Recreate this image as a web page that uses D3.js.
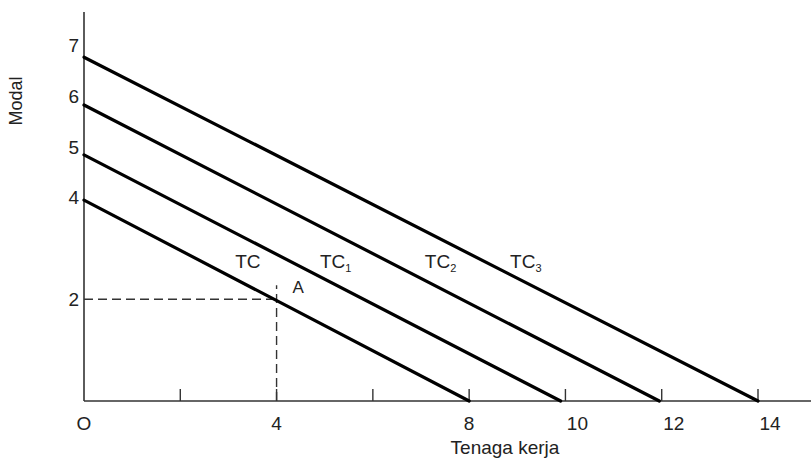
<!DOCTYPE html>
<html>
<head>
<meta charset="utf-8">
<script src="https://cdn.jsdelivr.net/npm/d3@7"></script>
<style>
  body { margin: 0; background: #fff; }
  svg { display: block; }
  text { font-family: "Liberation Sans", Arial, sans-serif; fill: #222; }
</style>
</head>
<body>
<svg id="chart" width="811" height="462"></svg>
<script>
// Budget (total cost) lines: Modal intercept and Tenaga kerja intercept
const lineNames = ["TC", "TC", "TC", "TC"];
const lineSubs = ["", "1", "2", "3"];
const modalIntercepts = [3.95, 4.84, 5.82, 6.76];
const laborIntercepts = [8, 9.9, 11.95, 14];
const labelX = [3.14, 4.9, 7.08, 8.85];
const labelY = 2.62;

// Tick labels
const xTickMarks = [2, 4, 6, 8, 10, 12, 14];
const xTickLabels = [0, 4, 8, 10, 12, 14];
const yTickLabels = [2, 4, 5, 6, 7];

// Point A
const pointA = { x: 4, y: 2, label: "A" };

const svg = d3.select("#chart");
const width = 811, height = 462;

const x = d3.scaleLinear().domain([0, 14]).range([84, 758]);
const y = d3.scaleLinear().domain([0, 7]).range([401, 45]);

// Axes (plain lines, like the textbook figure)
svg.append("line")
    .attr("x1", x(0)).attr("x2", x(0))
    .attr("y1", 12).attr("y2", y(0))
    .attr("stroke", "#333").attr("stroke-width", 1.6);

svg.append("line")
    .attr("x1", x(0)).attr("x2", width)
    .attr("y1", y(0)).attr("y2", y(0))
    .attr("stroke", "#333").attr("stroke-width", 1.6);

// Small tick marks on the x axis
svg.selectAll(".xtick")
    .data(xTickMarks)
    .enter().append("line")
    .attr("class", "xtick")
    .attr("x1", d => x(d)).attr("x2", d => x(d))
    .attr("y1", y(0) - 12).attr("y2", y(0))
    .attr("stroke", "#333").attr("stroke-width", 1.4);

// x tick labels
svg.selectAll(".xlab")
    .data(xTickLabels)
    .enter().append("text")
    .attr("class", "xlab")
    .attr("x", d => x(d) + (d >= 10 ? 12 : 0))
    .attr("y", 430)
    .attr("text-anchor", "middle")
    .attr("font-size", 19)
    .text(d => d === 0 ? "O" : d);

// y tick labels
svg.selectAll(".ylab")
    .data(yTickLabels)
    .enter().append("text")
    .attr("class", "ylab")
    .attr("x", 79)
    .attr("y", d => y(d))
    .attr("dy", "0.36em")
    .attr("text-anchor", "end")
    .attr("font-size", 19)
    .text(d => d);

// Axis titles
svg.append("text")
    .attr("x", 505).attr("y", 454)
    .attr("text-anchor", "middle")
    .attr("font-size", 19)
    .text("Tenaga kerja");

svg.append("text")
    .attr("transform", "translate(22,101) rotate(-90)")
    .attr("text-anchor", "middle")
    .attr("font-size", 18)
    .text("Modal");

// Dashed guides to point A
svg.append("line")
    .attr("x1", x(0)).attr("x2", x(pointA.x))
    .attr("y1", y(pointA.y)).attr("y2", y(pointA.y))
    .attr("stroke", "#333").attr("stroke-width", 1.4)
    .attr("stroke-dasharray", "9,5");

svg.append("line")
    .attr("x1", x(pointA.x)).attr("x2", x(pointA.x))
    .attr("y1", y(0)).attr("y2", y(pointA.y) - 14)
    .attr("stroke", "#333").attr("stroke-width", 1.4)
    .attr("stroke-dasharray", "9,5");

svg.append("text")
    .attr("x", x(pointA.x) + 16).attr("y", y(pointA.y) - 6)
    .attr("font-size", 17)
    .text(pointA.label);

// Total cost lines
svg.selectAll(".tc")
    .data(modalIntercepts)
    .enter().append("line")
    .attr("class", "tc")
    .attr("x1", x(0)).attr("y1", d => y(d))
    .attr("x2", (d, i) => x(laborIntercepts[i])).attr("y2", y(0))
    .attr("stroke", "#000").attr("stroke-width", 3.2)
    .attr("stroke-linecap", "round");

// Line labels with subscripts
const lab = svg.selectAll(".tclab")
    .data(lineNames)
    .enter().append("text")
    .attr("class", "tclab")
    .attr("x", (d, i) => x(labelX[i]))
    .attr("y", y(labelY))
    .attr("font-size", 19);

lab.append("tspan").text(d => d);
lab.append("tspan")
    .attr("font-size", 11)
    .attr("dy", 4)
    .text((d, i) => lineSubs[i]);
</script>
</body>
</html>
